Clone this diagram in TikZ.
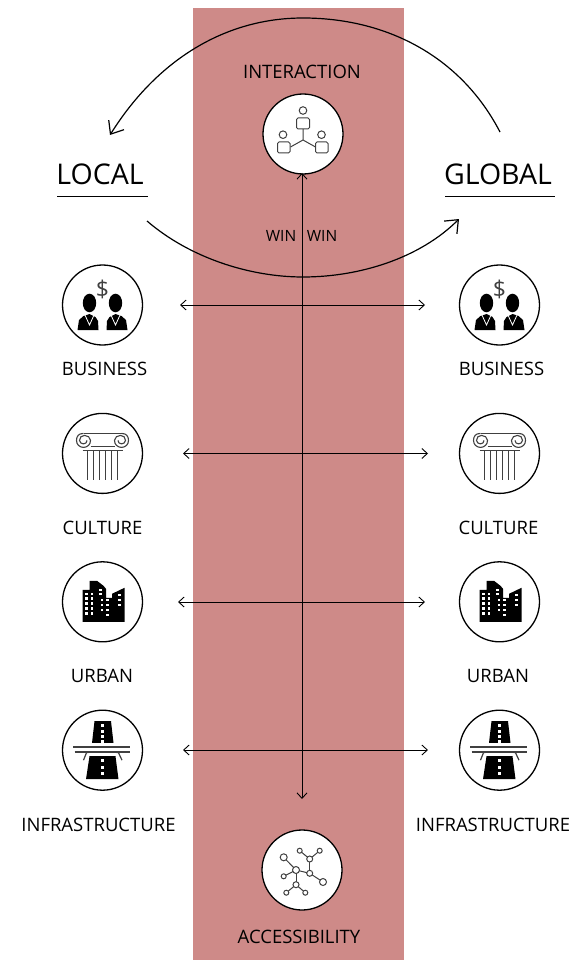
\documentclass[tikz,border=0pt]{standalone}
\usepackage{fontspec}
\setmainfont{Open Sans}
\usetikzlibrary{arrows.meta}
\definecolor{bandred}{HTML}{CE8A88}
\definecolor{icongray}{HTML}{404040}

\newcommand{\bizicon}{
	\node[font=\fontsize{23}{23}\selectfont,text=icongray,inner sep=0pt] (dollar) at (0,-16) {\$};
	\foreach \s in {-1,1}{
		\fill (\s*13,-2) ellipse (6.7 and 9.3);
		\fill (\s*4,25) -- (\s*4.5,16) -- (\s*7,12) -- (\s*13,9) -- (\s*19,11) -- (\s*23.5,15) -- (\s*25,25) -- cycle;
		\draw[white,line width=0.8pt] (\s*8,9) -- (\s*13,20) -- (\s*18,9);
	}
}
\newcommand{\columnicon}{
	\tikzstyle{stone}=[icongray,line width=1.1pt]
	\draw[stone] (-19,-20) -- (19,-20);
	\draw[stone] (-12,-7) -- (12,-7);
	\draw[icongray,line width=1.6pt] (-20,-3) -- (20,-3);
	\foreach \s in {-1,1}{
		\draw[stone] (\s*19,-20) .. controls (\s*24,-20) and (\s*26,-17) .. (\s*26,-13)
			.. controls (\s*26,-9) and (\s*23,-6) .. (\s*19,-6)
			.. controls (\s*15,-6) and (\s*12,-9) .. (\s*12,-13)
			.. controls (\s*12,-16) and (\s*15,-18) .. (\s*18,-18)
			.. controls (\s*21,-18) and (\s*23,-16) .. (\s*23,-13)
			.. controls (\s*23,-11) and (\s*21,-9.5) .. (\s*19,-9.5)
			.. controls (\s*17,-9.5) and (\s*15.5,-11) .. (\s*15.5,-13);
	}
	\foreach \x in {-15,-9,-3,3,9,15}
		\draw[stone] (\x,-3) -- (\x,27);
}
\newcommand{\urbanicon}{
	\fill (-20,20) -- (-20,-12) -- (-13,-12) -- (-13,-21) -- (-5.5,-21) -- (1,-16) -- (3.5,-13) -- (3.5,-4) -- (9.5,-4) -- (9.5,-8) -- (22,-14) -- (22,20) -- cycle;
	\foreach \x in {-16,-10.5}
		\foreach \y in {-8,-3.5,1.5,6.5,11.5}
			\fill[white] (\x-1.3,\y-1.3) rectangle (\x+1.3,\y+1.3);
	\foreach \x/\y in {-2/-12,-2/-8,-0.5/-2,-0.5/3,-0.5/8,5/-2,5/3,5/8,5/13,17/-7,17/-2,17/3}
		\fill[white] (\x-1.3,\y-1.3) rectangle (\x+1.3,\y+1.3);
}
\newcommand{\roadicon}{
	\fill (-8,-29) -- (8.5,-29) -- (11,-7.3) -- (-10.5,-7.3) -- cycle;
	\fill (-13,6) -- (13,6) -- (16,29) -- (-16.5,29) -- cycle;
	\draw[icongray,line width=1.6pt] (-29.5,-3.3) -- (27,-3.3);
	\draw[icongray,line width=1.6pt] (-28,1.7) -- (27,1.7);
	\draw[icongray,line width=1.2pt] (-13,2) -- (-16,2.5) -- (-19,10);
	\draw[icongray,line width=1.2pt] (13,2) -- (16,2.5) -- (19.5,10);
	\foreach \y in {-26,-20.5,-15,-10,9,15.5,22}
		\fill[white] (-1.2,\y) rectangle (1.2,\y+3);
}
\newcommand{\peopleicon}{
	\tikzstyle{person}=[draw=icongray,line width=1pt]
	\draw[person] (0,-5) -- (0,6) (-12.5,13) -- (0,6) -- (12.5,13);
	\draw[person,rounded corners=1.5pt,fill=white] (-6.5,-16) rectangle (6.5,-5);
	\draw[person,rounded corners=1.5pt,fill=white] (-25.5,8) rectangle (-13,19);
	\draw[person,rounded corners=1.5pt,fill=white] (12.5,8) rectangle (25,19);
	\draw[person] (0,-23.5) circle (3.8);
	\draw[person] (-20,0.7) circle (3.8);
	\draw[person] (18.5,0.7) circle (3.8);
}
\newcommand{\networkicon}{
	\coordinate (n1) at (-18.3,-12.7);
	\coordinate (n2) at (-6,0);
	\coordinate (n3) at (-18.3,6.3);
	\coordinate (n4) at (7.7,-11);
	\coordinate (n5) at (-2.3,-19.3);
	\coordinate (n6) at (17.7,-19.3);
	\coordinate (n7) at (7.7,3.3);
	\coordinate (n8) at (21,12);
	\coordinate (n9) at (-6,14.7);
	\coordinate (n10) at (-15.7,22.7);
	\coordinate (n11) at (3.3,22.7);
	\foreach \a/\b in {n1/n2,n3/n2,n2/n7,n2/n9,n4/n7,n4/n5,n4/n6,n7/n8,n9/n10,n9/n11}
		\draw[icongray,line width=1pt] (\a) -- (\b);
	\foreach \c/\r in {n1/3.5,n2/3.5,n3/2.5,n4/3,n5/2.5,n6/2.5,n7/3,n8/3.5,n9/3,n10/2.5,n11/2.5}
		\draw[icongray,fill=white,line width=1pt] (\c) circle (\r);
}

\begin{document}
\begin{tikzpicture}[x=1pt,y=-1pt]

	\tikzstyle{badge}=[circle,fill=white,draw=black,line width=1.3pt,
		minimum size=80pt,inner sep=0pt,node distance=148.4pt]
	\tikzstyle{caption}=[font=\fontsize{18.5}{20}\selectfont,inner sep=0pt]
	\tikzstyle{win}=[font=\fontsize{15.5}{17}\selectfont,inner sep=0pt]
	\tikzstyle{scale label}=[font=\fontsize{28.5}{30}\selectfont,inner sep=0pt]
	\tikzstyle{flow}=[line width=0.9pt,{Straight Barb[length=5.5pt,width=10pt]}-{Straight Barb[length=5.5pt,width=10pt]}]
	\tikzstyle{swing}=[line width=1.2pt,-{Straight Barb[length=11pt,width=18pt]}]

	\useasboundingbox (0,0) rectangle (574,960);
	\fill[bandred] (193,8) rectangle (404,960);

	\node[badge] (inter) at (303,134) {};
	\node[badge] (access) at (302,870) {};

	\node[badge] (busL) at (102.5,305) {};
	\node[badge,below of=busL] (culL) {};
	\node[badge,below of=culL] (urbL) {};
	\node[badge,below of=urbL] (infL) {};
	\node[badge] (busR) at (499.5,305) {};
	\node[badge,below of=busR] (culR) {};
	\node[badge,below of=culR] (urbR) {};
	\node[badge,below of=urbR] (infR) {};

	\begin{scope}[shift={(inter)}]\peopleicon\end{scope}
	\begin{scope}[shift={(access)}]\networkicon\end{scope}
	\foreach \side in {L,R}{
		\begin{scope}[shift={(bus\side)}]\bizicon\end{scope}
		\begin{scope}[shift={(cul\side)}]\columnicon\end{scope}
		\begin{scope}[shift={(urb\side)}]\urbanicon\end{scope}
		\begin{scope}[shift={(inf\side)}]\roadicon\end{scope}
	}

	\node[caption] (tinter) at (302,72) {INTERACTION};
	\node[caption] (taccess) at (299,937) {ACCESSIBILITY};
	\node[caption] (tbusL) at (104.5,369) {BUSINESS};
	\node[caption] (tbusR) at (501.5,369) {BUSINESS};
	\node[caption] (tculL) at (102.5,528) {CULTURE};
	\node[caption] (tculR) at (498.5,528) {CULTURE};
	\node[caption] (turbL) at (102,676) {URBAN};
	\node[caption] (turbR) at (498,676) {URBAN};
	\node[caption] (tinfL) at (98.5,825) {INFRASTRUCTURE};
	\node[caption] (tinfR) at (493,825) {INFRASTRUCTURE};
	\node[win] (winL) at (281,235.5) {WIN};
	\node[win] (winR) at (322,235.5) {WIN};

	\node[scale label] (local) at (100,174) {LOCAL};
	\node[scale label] (global) at (498,174) {GLOBAL};
	\coordinate (rule1a) at (57,196);
	\coordinate (rule1b) at (148,196);
	\coordinate (rule2a) at (445,196);
	\coordinate (rule2b) at (555,196);
	\draw[line width=1pt] (rule1a) -- (rule1b);
	\draw[line width=1pt] (rule2a) -- (rule2b);

	% arcs between the two scales
	\coordinate (topa) at (500,132);
	\coordinate (topb) at (110,135);
	\coordinate (bota) at (147,221);
	\coordinate (botb) at (459,219);
	\draw[swing] (topa) .. controls (460,55) and (385,18) .. (303,18)
		.. controls (225,18) and (157,60) .. (topb);
	\draw[swing] (bota) .. controls (190,258) and (250,277) .. (303,277)
		.. controls (360,277) and (420,258) .. (botb);

	% links across the band
	\coordinate (a1) at (180,305);
	\coordinate (b1) at (425,305);
	\coordinate (a2) at (183,453.5);
	\coordinate (b2) at (428,453.5);
	\coordinate (a3) at (178,602);
	\coordinate (b3) at (425,602);
	\coordinate (a4) at (183,750);
	\coordinate (b4) at (428,750);
	\foreach \i in {1,...,4}
		\draw[flow] (a\i) -- (b\i);
	\coordinate (vtop) at (302,173);
	\coordinate (vbot) at (302,799);
	\draw[flow] (vtop) -- (vbot);

\end{tikzpicture}
\end{document}
